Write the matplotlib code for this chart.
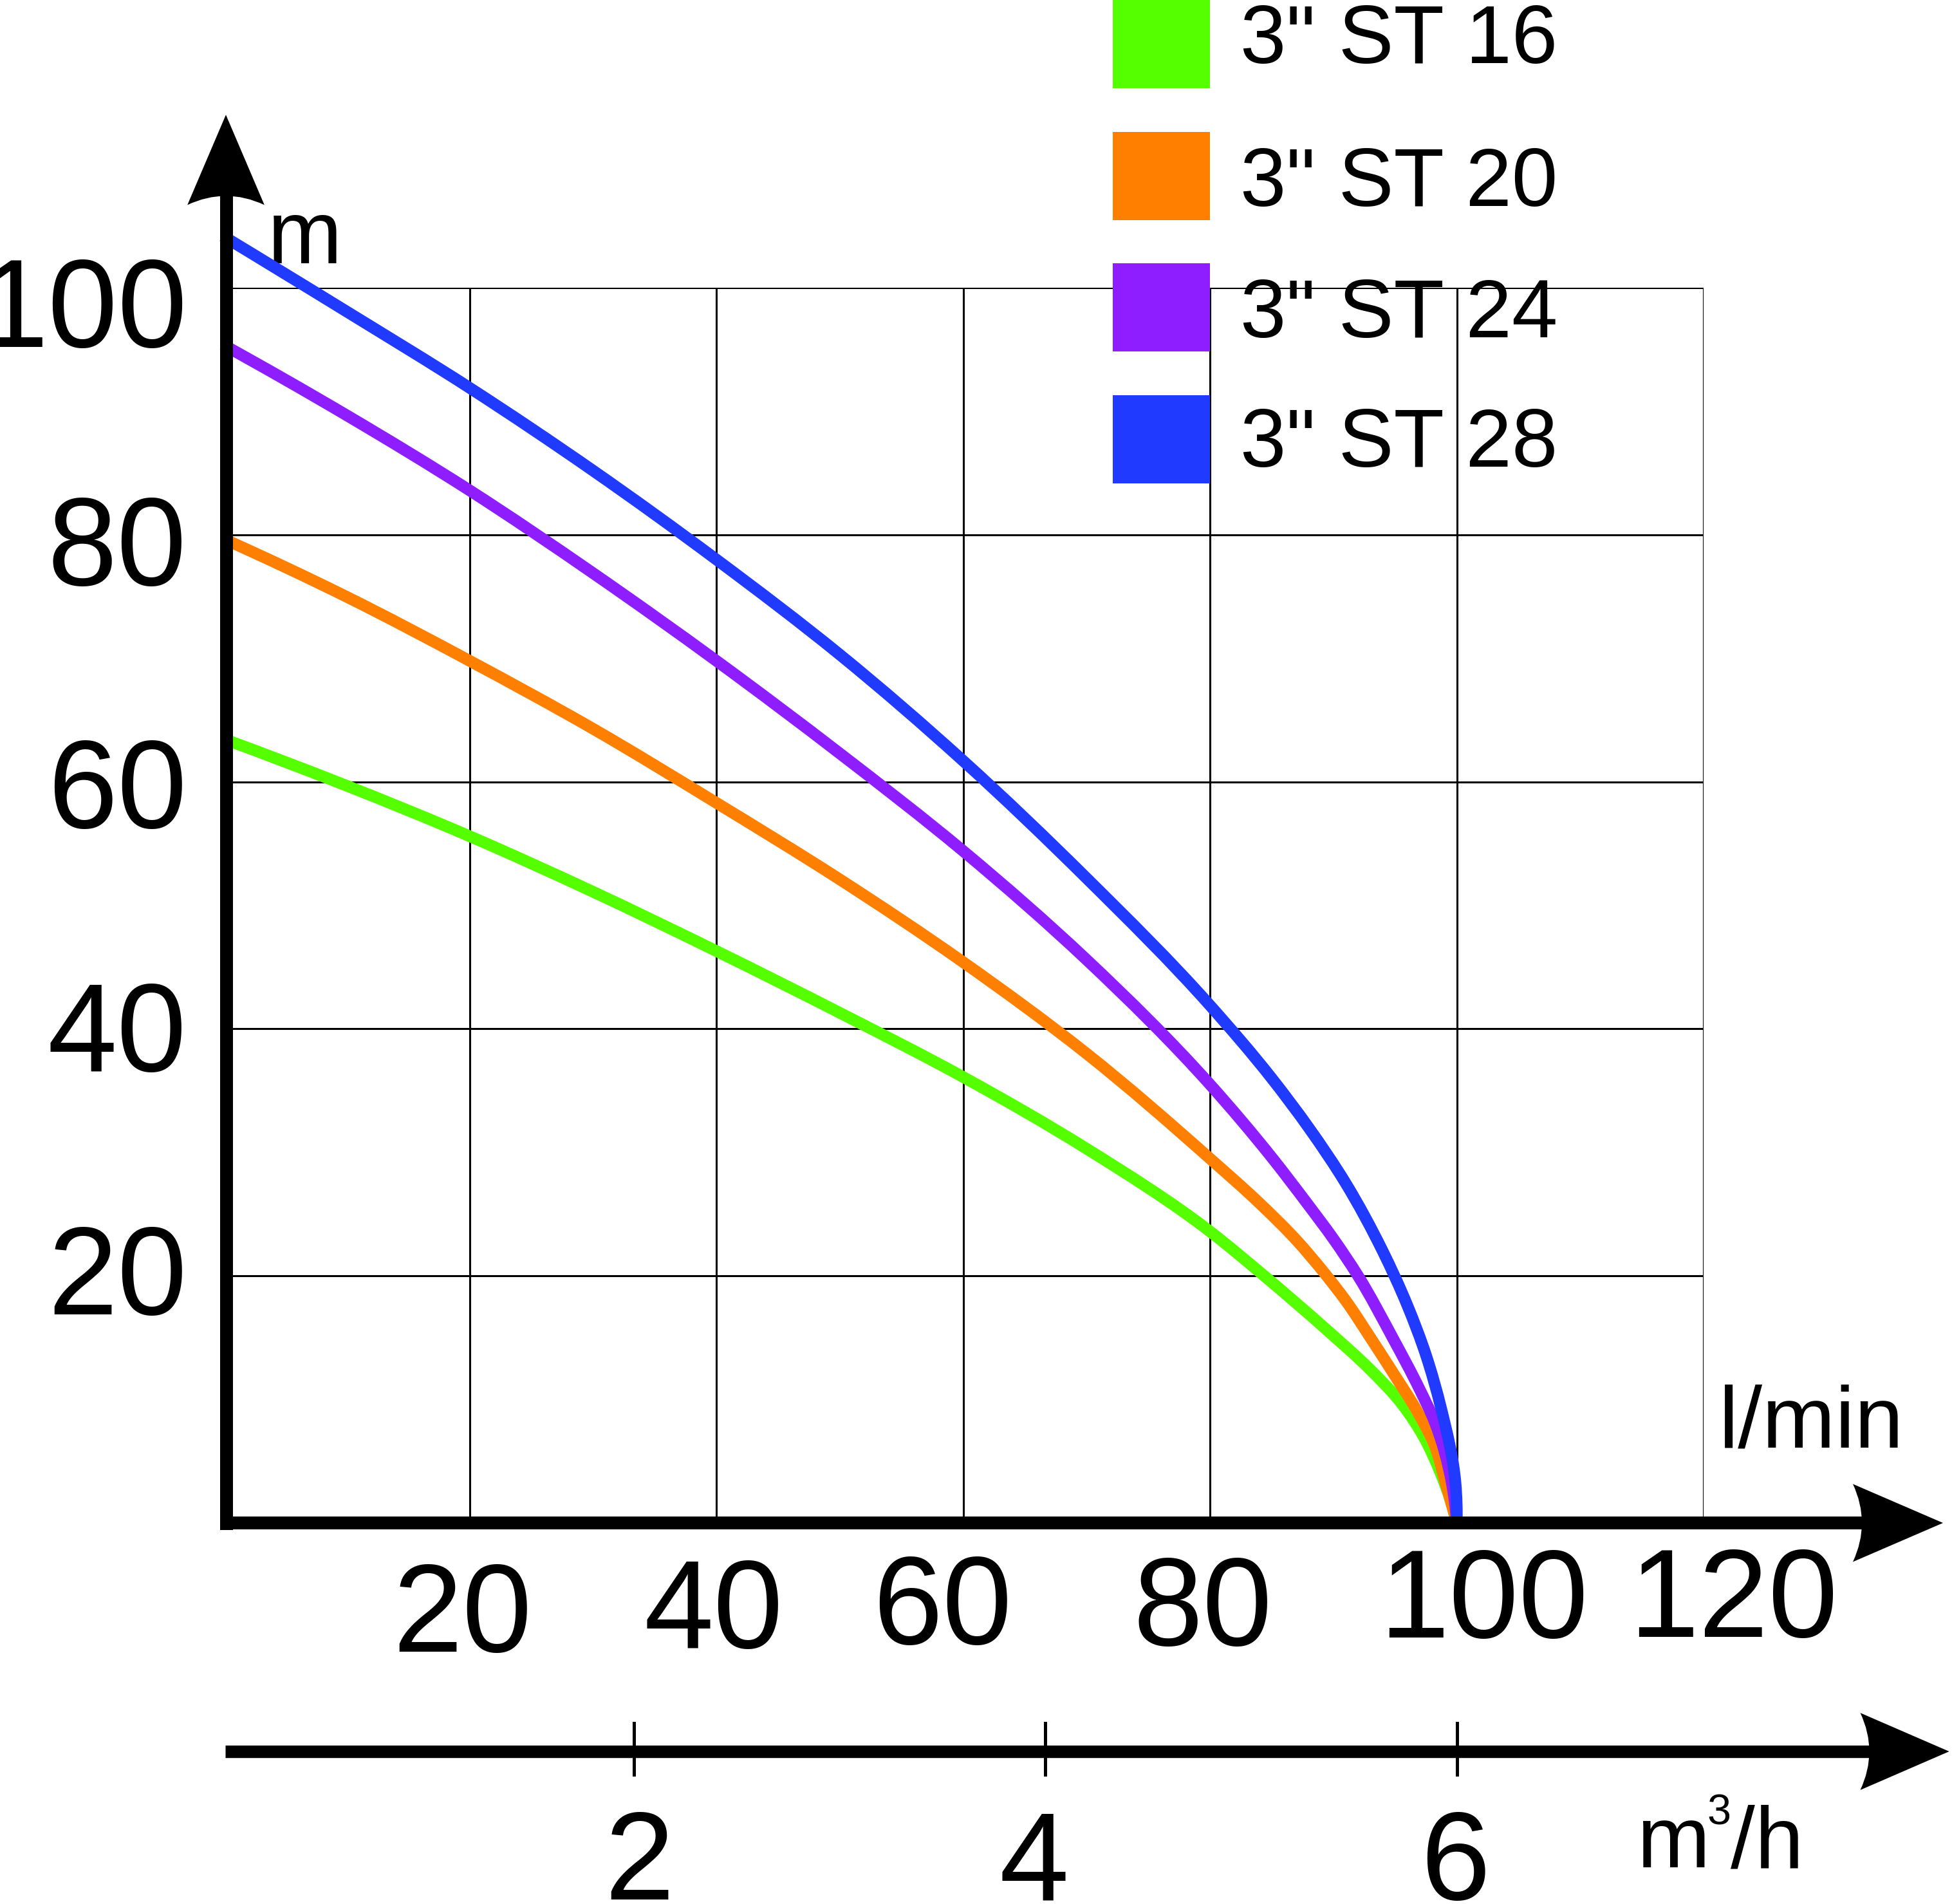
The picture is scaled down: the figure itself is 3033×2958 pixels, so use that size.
import matplotlib
matplotlib.use('Agg')
import matplotlib.pyplot as plt
import numpy as np
from matplotlib.patches import Rectangle, PathPatch
from matplotlib.path import Path

plt.rcParams['font.family'] = ['Liberation Sans', 'DejaVu Sans']

# pump curves: flow in l/min, head in m
flow_16 = [0, 10, 20, 30, 40, 50, 60, 70, 80, 84.4, 89.5, 93, 95.5, 97.3, 98.7, 99.5, 100]
head_16 = [63.5, 59.7, 55.6, 51.1, 46.3, 41.3, 36.1, 30.3, 23.6, 20.0, 15.6, 12.4, 9.7, 7.0, 4.0, 1.8, 0]

flow_20 = [0, 10, 20, 30, 40, 50, 60, 70, 80, 84, 87, 89.3, 91, 93, 95, 96.7, 98.2, 99.1, 100]
head_20 = [79.7, 75.0, 69.8, 64.3, 58.3, 52.1, 45.4, 38.0, 29.5, 25.9, 22.9, 20.2, 18.0, 15.0, 11.9, 9.2, 6.3, 3.2, 0]

flow_24 = [0, 10, 20, 30, 40, 50, 60, 70, 80, 85, 88, 90, 92, 94.8, 97, 98.2, 99.6, 100]
head_24 = [95.4, 89.7, 83.6, 76.9, 69.8, 62.3, 54.4, 45.6, 35.5, 29.6, 25.7, 23.0, 20.0, 15.0, 10.8, 8.2, 3.2, 0]

flow_28 = [0, 10, 20, 30, 40, 50, 60, 70, 80, 85, 88, 91, 94, 96, 97.5, 98.7, 99.9, 100]
head_28 = [104.2, 98.1, 91.9, 85.2, 78.0, 70.3, 61.7, 52.2, 41.9, 36.0, 32.0, 27.5, 22.0, 17.6, 13.6, 9.4, 3.2, 0]

names = ['3" ST 16', '3" ST 20', '3" ST 24', '3" ST 28']
colors = ['#55FF00', '#FF7F00', '#8E1DFF', '#203AFF']

x_ticks = [20, 40, 60, 80, 100, 120]
y_ticks = [20, 40, 60, 80, 100]
m3h_ticks = [2, 4, 6]
LPM_PER_M3H = 1000 / 60.0


def smooth_path(xs, ys):
    # cubic bezier segments through the read points, Bessel tangents
    pts = np.column_stack([xs, ys]).astype(float)
    n = len(pts)
    seg = pts[1:] - pts[:-1]
    lens = np.hypot(seg[:, 0], seg[:, 1])
    unit = seg / lens[:, None]
    tang = np.zeros_like(pts)
    for i in range(1, n - 1):
        t = lens[i] * unit[i - 1] + lens[i - 1] * unit[i]
        tang[i] = t / np.hypot(*t)
    t0 = 2 * unit[0] - tang[1]
    tang[0] = t0 / np.hypot(*t0)
    tn = 2 * unit[-1] - tang[-2]
    tang[-1] = tn / np.hypot(*tn)
    verts = [pts[0]]
    codes = [Path.MOVETO]
    for i in range(n - 1):
        h = lens[i] / 3.0
        verts += [pts[i] + tang[i] * h, pts[i + 1] - tang[i + 1] * h, pts[i + 1]]
        codes += [Path.CURVE4] * 3
    return Path(verts, codes)


def arrow_head(ax, tip, base, half_w, notch, horizontal=True):
    # filled arrow head with a concave back
    tx, ty = tip
    if horizontal:
        verts = [(tx, ty), (base, ty + half_w), (base + 2 * notch, ty),
                 (base, ty - half_w), (tx, ty)]
    else:
        verts = [(tx, ty), (tx - half_w, base), (tx, base + 2 * notch),
                 (tx + half_w, base), (tx, ty)]
    codes = [Path.MOVETO, Path.LINETO, Path.CURVE3, Path.CURVE3, Path.CLOSEPOLY]
    ax.add_patch(PathPatch(Path(verts, codes), facecolor='black',
                           edgecolor='none', clip_on=False, zorder=6))


def main():
    fig = plt.figure(figsize=(30.33, 29.58), dpi=100)
    ax = fig.add_axes([0.11408, 0.20014, 0.75866, 0.64875])
    ax.set_xlim(0, 120)
    ax.set_ylim(0, 100)
    for s in ax.spines.values():
        s.set_visible(False)
    ax.set_xticks(x_ticks)
    ax.set_yticks(y_ticks)
    ax.tick_params(length=0, labelbottom=False, labelleft=False)
    ax.grid(True, color='black', linewidth=2.2)
    ax.set_axisbelow(True)

    # curves
    for fl, hd, c in zip([flow_16, flow_20, flow_24, flow_28],
                         [head_16, head_20, head_24, head_28], colors):
        ax.add_patch(PathPatch(smooth_path(fl, hd), facecolor='none',
                               edgecolor=c, lw=13, capstyle='butt',
                               joinstyle='round', clip_on=False, zorder=3))

    # main axes with arrows
    ax.plot([0.3, 0.3], [-0.55, 107.5], color='black', lw=14.4,
            solid_capstyle='butt', clip_on=False, zorder=5)
    arrow_head(ax, (0.26, 114.0), 106.7, 3.12, 0.73, horizontal=False)
    ax.plot([-0.15, 133.0], [0, 0], color='black', lw=14.4,
            solid_capstyle='butt', clip_on=False, zorder=5)
    arrow_head(ax, (139.4, 0), 132.1, 3.15, 0.73)

    # second flow axis in m3/h
    y2 = -18.5
    ax.plot([0.2, 133.5], [y2, y2], color='black', lw=14.0,
            solid_capstyle='butt', clip_on=False, zorder=5)
    arrow_head(ax, (139.9, y2), 132.7, 3.12, 0.73)
    m3h_nudge = [0.4, -0.9, -0.1]
    for v, dx in zip(m3h_ticks, m3h_nudge):
        xv = v * LPM_PER_M3H
        ax.plot([xv, xv], [y2 + 2.3, y2 - 1.9], color='black', lw=3.6,
                clip_on=False, zorder=5)
        ax.text(xv + dx, -30.5, str(v), fontsize=140, ha='center',
                va='baseline')

    # tick labels
    x_nudge = [-0.6, -0.2, -1.7, -0.6, 2.2, 2.4]
    x_base = [-10.4, -10.1, -9.8, -9.9, -9.3, -9.2]
    for v, dx, yb in zip(x_ticks, x_nudge, x_base):
        ax.text(v + dx, yb, str(v), fontsize=140, ha='center', va='baseline')
    y_base = [-3.1, -3.4, -3.7, -4.1, -4.8]
    for v, dy in zip(y_ticks, y_base):
        ax.text(-2.9, v + dy, str(v), fontsize=140, ha='right', va='baseline')

    # unit labels
    ax.text(3.65, 102.0, 'm', fontsize=100, ha='left', va='baseline', zorder=1)
    ax.text(121.25, 6.1, 'l/min', fontsize=98, ha='left', va='baseline')
    ax.text(114.6, -27.9, 'm', fontsize=98, ha='left', va='baseline')
    ax.text(120.3, -24.4, '3', fontsize=48, ha='left', va='baseline')
    ax.text(122.2, -27.9, '/h', fontsize=98, ha='left', va='baseline')

    # legend
    leg_top = [123.3, 112.6, 102.0, 91.3]
    leg_base = [118.2, 106.6, 96.0, 85.5]
    for name, c, top, base in zip(names, colors, leg_top, leg_base):
        ax.add_patch(Rectangle((72.1, top - 7.14), 7.9, 7.14, facecolor=c,
                               edgecolor='none', clip_on=False, zorder=4))
        ax.text(82.45, base, name, fontsize=92.5, ha='left', va='baseline',
                zorder=4)

    fig.savefig('out.png', dpi=100)


if __name__ == '__main__':
    main()
